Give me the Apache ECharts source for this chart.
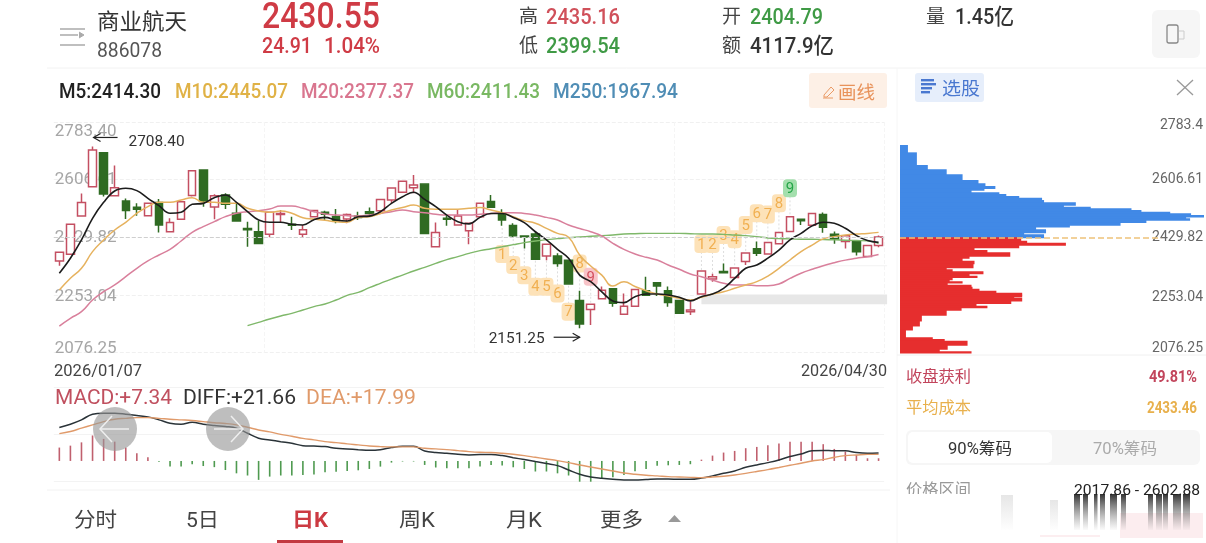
<!DOCTYPE html>
<html>
<head>
<meta charset="utf-8">
<style>html,body{margin:0;padding:0;background:#fff}#c{width:1206px;height:543px}#c canvas{filter:blur(0.4px)}</style>
<script src="https://cdn.jsdelivr.net/npm/echarts@6/dist/echarts.min.js"></script>
</head>
<body>
<div id="c"></div>
<script>
const dates = ['2026/01/07','2026/01/08','2026/01/09','2026/01/12','2026/01/13','2026/01/14','2026/01/15','2026/01/16','2026/01/19','2026/01/20','2026/01/21','2026/01/22','2026/01/23','2026/01/26','2026/01/27','2026/01/28','2026/01/29','2026/01/30','2026/02/02','2026/02/03','2026/02/04','2026/02/05','2026/02/06','2026/02/09','2026/02/10','2026/02/11','2026/02/12','2026/02/13','2026/02/24','2026/02/25','2026/02/26','2026/02/27','2026/03/02','2026/03/03','2026/03/04','2026/03/05','2026/03/06','2026/03/09','2026/03/10','2026/03/11','2026/03/12','2026/03/13','2026/03/16','2026/03/17','2026/03/18','2026/03/19','2026/03/20','2026/03/23','2026/03/24','2026/03/25','2026/03/26','2026/03/27','2026/03/30','2026/03/31','2026/04/01','2026/04/02','2026/04/03','2026/04/07','2026/04/08','2026/04/09','2026/04/10','2026/04/13','2026/04/14','2026/04/15','2026/04/16','2026/04/17','2026/04/20','2026/04/21','2026/04/22','2026/04/23','2026/04/24','2026/04/27','2026/04/28','2026/04/29','2026/04/30'];
// [open, close, low, high]
const kline = [[2357,2384,2343,2384],[2378,2470,2378,2470],[2495,2537,2495,2564],[2585,2697.6,2585,2708.4],[2689,2563,2555,2689],[2557,2582,2555,2650],[2541,2512,2486,2549],[2522,2516,2496,2534],[2496,2534,2496,2537],[2537,2468,2445,2547],[2447,2475,2447,2488],[2485,2539,2485,2541],[2558,2634,2555,2636],[2636,2541,2524,2636],[2523,2557,2485,2562],[2560,2531,2517,2565],[2504,2480,2480,2537],[2457,2453,2401,2478],[2447,2411,2411,2480],[2439,2507,2430,2509],[2500,2503,2476,2514],[2470,2467,2452,2493],[2439,2453,2429,2468],[2493,2512,2493,2514],[2507,2501,2483,2511],[2494,2481,2473,2517],[2486,2500,2473,2503],[2495,2491,2483,2508],[2508,2503,2493,2521],[2511,2546,2505,2546],[2544,2581,2534,2581],[2568,2602,2568,2602],[2582,2590,2565,2621],[2593,2442,2442,2593],[2401,2445,2401,2475],[2488,2485,2465,2498],[2468,2495,2468,2516],[2450,2473,2409,2473],[2493,2534,2493,2534],[2540,2522,2522,2560],[2503,2483,2465,2516],[2466,2435,2430,2473],[2434,2431,2396,2434],[2440,2363,2363,2447],[2373,2409,2360,2411],[2373,2350,2340,2381],[2360,2287,2287,2360],[2236,2164,2151.25,2266],[2209,2224.5,2161,2224.5],[2242,2268,2242,2279],[2272,2228,2217,2272],[2194,2219,2194,2258],[2219,2270,2219,2270],[2266,2252,2252,2309],[2291,2281,2250,2291],[2266,2230,2217,2279],[2236,2197,2195,2236],[2202,2207,2192,2233],[2256,2327,2256,2327],[2302,2309,2294,2318],[2325,2321,2321,2350],[2307,2336,2304,2338],[2356,2382,2345,2382],[2395,2381,2373,2417],[2379,2414,2379,2414],[2410,2445,2410,2445],[2448,2493,2448,2493],[2485,2481,2468,2485],[2467,2503,2467,2503],[2500,2461,2444,2506],[2439,2425,2410,2448],[2417,2435,2396,2435],[2417,2386,2374,2417],[2371,2405,2371,2405],[2404.79,2430.55,2399.54,2435.16]];
const ma5 = [2319.6,2365.6,2421.8,2488.2,2537.2,2571.9,2580.1,2573,2549.5,2527,2503.5,2506.6,2531,2534,2551.5,2559.7,2537.2,2508.6,2483,2476,2476,2469.8,2467.7,2484,2491.2,2483,2480,2493,2495,2508.5,2534,2554.5,2568,2546,2524,2498,2478,2471,2491,2503,2503,2491,2475,2447,2422,2393,2365.5,2314,2294,2263,2234.7,2229.7,2248,2256,2256,2253,2246,2235,2248,2256,2273.6,2304,2335,2345,2366,2391,2422,2442,2465,2476,2473,2457.5,2435,2420,2414.3];
const ma10 = [2268.5,2304.3,2335,2386,2421.8,2452.4,2476,2503.5,2524,2537.2,2537.2,2544.4,2551.5,2537.2,2537.2,2534,2534,2518.8,2510.6,2506.6,2510.6,2503.5,2490.2,2486,2482,2478,2476,2491,2493,2503,2513.6,2521,2529,2519,2516,2516,2516,2519,2521,2513.6,2505.5,2493,2481,2472.8,2457.4,2442,2430,2375.7,2342,2314,2280.7,2294,2279,2266.4,2256,2250,2243,2238,2246,2256,2263,2273.6,2284,2294,2311,2335,2360.4,2386,2406,2425,2432,2437,2440,2442,2445.07];
const ma20 = [2158,2181.7,2202,2237.8,2263.4,2283.8,2309.4,2335,2357.4,2375.8,2393,2418.7,2445.3,2462.6,2478,2493.3,2503.5,2508.6,2511.7,2516.8,2526,2526,2518.8,2508.6,2501.5,2498.4,2496.3,2495,2498,2503,2508.5,2513.6,2508.5,2505.5,2501,2498,2498,2498,2501,2503,2505.5,2505.5,2503,2498,2491,2483,2467.7,2457,2447,2434,2411.5,2393,2379,2368.6,2360.4,2345,2332,2317.5,2309,2299,2289,2284,2284,2281.8,2281.8,2287,2304,2319.6,2332,2343,2352,2360,2365.5,2370.7,2377.37];
const ma60 = [null,null,null,null,null,null,null,null,null,null,null,null,null,null,null,null,null,2159,2169.4,2179.6,2188.8,2197,2207.2,2217.4,2225.6,2237.8,2252.2,2261,2275.6,2289,2302,2314,2326.7,2338,2350,2361.4,2370.6,2380.8,2389,2395,2401,2407.4,2413.5,2418.6,2422.7,2425.8,2429,2431,2433,2435,2437,2440,2441,2442,2442,2442,2442,2441,2440,2440,2439,2437,2435,2432,2428,2426,2425,2424,2424,2423,2422,2421,2420,2419,2411.43];
const macd = [36.7,42,51,70,60.5,53,36.7,21,10,-2,-15.6,-15.6,-9,-14,-17,-25,-34,-40,-52,-43,-40,-40,-38.5,-37,-31,-30,-27.5,-25.7,-22,-15.6,-4.6,-1.5,-1.5,-11,-18,-20,-20,-20,-15.6,-11,-12.8,-17.4,-22,-29,-29,-34,-40,-57,-57,-49.5,-45,-38.5,-28.4,-22,-13,-12,-11,-9,3.5,14.7,23,27.5,35,38.5,43,47.7,53,53,53,46,33,25.7,16.5,7.3,7.34];
const diff = [91.7,100.9,112.8,128.4,131,131,128.4,124.7,121,112.8,103.6,100.9,106.4,100.9,97.2,94.5,90,76,62.4,57.8,53,48.6,42,41,39.4,34.8,33,31,29.3,31,36.7,40,40,27.5,23,21,18.3,16.5,17.4,17.4,14.7,9,3.7,-1.8,-7.3,-12.8,-24.8,-36.7,-44,-47.7,-50.4,-52.3,-52.3,-51,-49.5,-49.5,-50.4,-50.4,-47,-41,-34,-27.5,-17.4,-11,-4.6,2.8,12,19,28,29,28,28,23,21,21.66];
const dea = [75,80.7,90,99,108,114.6,117,119,119,117,114.6,112.8,111,108,105,102.7,99,92.6,85,79.8,73,67.9,62,57.8,53,50.4,46.8,44,41,39.4,38.5,38.5,38.5,34.8,33,31,28.4,25.7,23.8,23,21,18.3,14.7,10,5.5,0.9,-4.6,-11,-16.5,-22,-27.5,-33,-36.7,-39.4,-41,-43,-44,-45,-45.9,-44,-42,-38.5,-34,-29,-23.8,-18,-12,-6.4,0,3.7,10,14.7,16.5,18,17.99];
// price band edges (high to low) and chip volume in each band
const chipEdges = [2712.9,2690.4,2651.6,2638.3,2623,2605.6,2595.4,2587.3,2580.1,2575,2567.8,2562.7,2556.6,2551.5,2544.3,2537.2,2529,2523.9,2518.8,2513.7,2508.6,2503.5,2498.4,2493.3,2488.1,2483,2475.9,2467.7,2462.6,2454.4,2445.2,2439.1,2429.82,2419.6,2413.5,2406.3,2399.2,2391,2383.9,2372.6,2366.5,2358.3,2350.2,2337.9,2331.8,2325.6,2319.5,2312.4,2307.3,2301.1,2295,2290.9,2284.8,2278.6,2272.5,2266.4,2260.3,2254.1,2248,2243.9,2235.7,2227.6,2220.4,2215.3,2207.1,2191.8,2174.4,2159.1,2146.8,2123.3,2118.2,2113.1,2099.8,2087.6,2080.4,2076.25];
const chipVols = [8,17,28,47,63,79,86,96,85,72,100,107,120,143,145,177,165,192,233,243,272,293,306,288,292,248,222,171,137,147,125,145,122,128,167,120,75,88,111,70,63,75,74,47,53,84,70,78,53,50,63,48,72,73,80,97,123,123,115,123,112,77,88,62,47,22,20,13,6,33,45,68,48,40,72];
const lastPrice = 2429.82;
const priceTicks = [2076.25,2253.04,2429.82,2606.61,2783.40];
const leftTickLabels = ['2076.25','2253.04','2429.82','2606.61','2783.40'];
const rightTickLabels = ['2076.25','2253.04','2429.82','2606.61','2783.4'];
// TD sequence: [candle index, badge price, number, kind]
const tdMarks = [[40,2378.8,1,0],[41,2345,2,0],[42,2314,3,0],[43,2278.6,4,0],[44,2278.6,5,0],[45,2258,6,0],[46,2202,7,0],[47,2350,8,0],[48,2309,9,1],[58,2409.5,1,0],[59,2409.5,2,0],[60,2437,3,0],[61,2424,4,0],[62,2468,5,0],[63,2503.5,6,0],[64,2500,7,0],[65,2534,8,0],[66,2580,9,2]];
const tdColors = [['#fde2b8','#f1b052'],['#f8c4c8','#d4505f'],['#a4dfad','#25a548']];
const gapBands = [[58,2255,2224.7,'#e7e7e7'],[63,2344,2341,'#f2f2f2']];
const maxIndex = 3, minIndex = 47;
const macdTicks = [-57,73,203];

const FF = 'Roboto,"Noto Sans CJK SC",sans-serif';
const ctx = document.createElement('canvas').getContext('2d');
function T(text,x,yc,size,fill,w,weight,z){
  const font=(weight||'normal')+' '+size+'px '+FF;
  ctx.font=font;
  const m=ctx.measureText(text).width;
  return {type:'text',x:x,y:yc+4,scaleX:w?w/m:1,z:z||20,silent:true,
    style:{text:text,fill:fill,font:font,textAlign:'left',textVerticalAlign:'middle',align:'left',verticalAlign:'middle'}};
}
function R(x,y,w,h,fill,r,z){return {type:'rect',shape:{x:x,y:y,width:w,height:h,r:r||0},style:{fill:fill},z:z||1,silent:true};}
function L(x1,y1,x2,y2,stroke,lw,z){return {type:'line',shape:{x1:x1,y1:y1,x2:x2,y2:y2},style:{stroke:stroke,lineWidth:lw||1},z:z||5,silent:true};}
function P(pts,stroke,lw,z,fill){return {type:'polyline',shape:{points:pts},style:{stroke:stroke,lineWidth:lw||1,fill:fill||null},z:z||5,silent:true};}

const g=[];
// header
g.push(L(60,29,85,29,'#aaa',1.5),L(60,35,78,35,'#aaa',1.5),L(60,45,85,45,'#aaa',1.5),P([[79,32],[84,35],[79,38]],'#aaa',1,5,'#aaa'));
g.push(T('商业航天',97,19,22,'#333',90),T('886078',97,48,20,'#555',65));
g.push(T('2430.55',262,15,36,'#cf3b45',118,'500'),T('24.91',262,43,22,'#cf3b45',50,'500'),T('1.04%',324,43,22,'#cf3b45',56,'500'));
g.push(T('高',519,14,19,'#444',19),T('2435.16',546,14,22,'#d0505a',74,'500'),T('低',519,43,19,'#444',19),T('2399.54',546,43,22,'#3f9a45',74,'500'));
g.push(T('开',722,14,19,'#444',19),T('2404.79',750,14,22,'#3f9a45',73,'500'),T('额',722,43,19,'#444',19),T('4117.9亿',750,43,22,'#333',84,'500'));
g.push(T('量',926,14,19,'#444',19),T('1.45亿',955,14,22,'#333',59,'500'));
g.push(R(1152,10,48,48,'#f6f6f6',6));
g.push({type:'rect',shape:{x:1167,y:25,width:11,height:18,r:2},style:{fill:'none',stroke:'#888',lineWidth:1.3},z:5,silent:true});
g.push(P([[1179,31],[1184,31],[1184,39],[1179,39]],'#ccc',1));
g.push(L(47,68,1206,68,'#f2f2f2',1),L(897,68,897,543,'#f6f6f6',1));
// MA legend
g.push(T('M5:2414.30',59,89,20,'#222',102,'500'),T('M10:2445.07',175,89,20,'#e0b246',113,'500'),T('M20:2377.37',301,89,20,'#d9768f',113,'500'),T('M60:2411.43',427,89,20,'#79b862',113,'500'),T('M250:1967.94',553,89,20,'#4f8db5',125,'500'));
g.push(R(809,73,78,35,'#fdf0e6',3));
g.push(L(823,98,833,98,'#ea9a64',1),P([[824,95],[831,87],[834,90],[827,97],[824,97],[824,95]],'#ea9a64',1));
g.push(T('画线',838,90,18,'#e8925a',37));
// right panel top
g.push(R(915,73,69,29,'#e6eefb',3));
g.push(R(921,79,13,2.4,'#4a78d0',0,5),R(921,83,15,2.4,'#4a78d0',0,5),R(921,87,11,2.4,'#4a78d0',0,5),R(921,91,9,2.4,'#4a78d0',0,5));
g.push(T('选股',942,86,18,'#4a78d0',38));
g.push(L(1177,80,1193,95,'#999',1.3),L(1193,80,1177,95,'#999',1.3));
// date labels
g.push(T(dates[0],54,368,17,'#444',88),T(dates[dates.length-1],801,368,17,'#444',86));
// macd legend
g.push(T('MACD:+7.34',55,395,21,'#c0505f',117),T('DIFF:+21.66',183,395,21,'#333',113),T('DEA:+17.99',306,395,21,'#e09a6a',110));
// macd nav circles
[[115,429,1],[228,429,-1]].forEach(c=>{
  g.push({type:'circle',shape:{cx:c[0],cy:c[1],r:22},style:{fill:'rgba(150,150,150,0.62)'},z:50,silent:true});
  const d=c[2];
  g.push(L(c[0]-14,c[1],c[0]+14,c[1],'#eee',1.5,51),P([[c[0]-d*3,c[1]-13],[c[0]-d*15,c[1]],[c[0]-d*3,c[1]+13]],'#eee',1.5,51));
});
// right panel bottom
g.push(L(897,355,1206,355,'#f0f0f0',1));
g.push(T('收盘获利',906,374,16,'#c2455c',65),T('49.81%',1149,374,16,'#c2455c',48,'bold'));
g.push(T('平均成本',906,405,16,'#e8b04c',65),T('2433.46',1147,405,16,'#e8b04c',50,'bold'));
g.push(R(906,430,294,35,'#f6f6f6',6),R(908,432,144,31,'#ffffff',5,2));
g.push(T('90%筹码',948,446,16,'#333',64),T('70%筹码',1093,446,16,'#aaa',64));
g.push(T('价格区间',906,487,16,'#999',65),T('2017.86 - 2602.88',1074,487,15,'#222',126));
g.push(R(900,494,100,8,'#ffffff',0,25));
const fade={type:'linear',x:0,y:0,x2:0,y2:1,colorStops:[{offset:0,color:'rgba(40,40,40,0.95)'},{offset:1,color:'rgba(120,120,120,0.03)'}]};
[[1074,6],[1083,5],[1094,3.5],[1100,5],[1110,7],[1121,5],[1148,5],[1156,6],[1163,5],[1173,8],[1183,7]].forEach(s=>g.push(R(s[0],494,s[1],36,fade,0,3)));
const pale={type:'linear',x:0,y:0,x2:0,y2:1,colorStops:[{offset:0,color:'rgba(200,200,200,0.45)'},{offset:1,color:'rgba(200,200,200,0.02)'}]};
g.push(R(1001,495,12,35,pale,0,2),R(1050,500,8,30,pale,0,2));
g.push(R(1120,513,83,25,'rgba(250,222,226,0.55)',0,2),R(1040,535,60,2,'rgba(250,222,226,0.5)',0,2));
// bottom tabs
g.push(L(47,490,890,490,'#f2f2f2',1));
g.push(T('分时',74,518,20,'#444',43),T('5日',186,518,20,'#444',33),T('日K',292,518,20,'#cc3a42',36,'bold'),T('周K',399,518,20,'#444',36),T('月K',506,518,20,'#444',36),T('更多',600,518,20,'#444',43));
g.push(R(277,540,66,3,'#c23a42'));
g.push({type:'polygon',shape:{points:[[668,522],[681,522],[674.5,515]]},style:{fill:'#999'},z:5,silent:true});

function tickLabel(labels,keys){
  return (v)=>{
    let best=0;
    priceTicks.forEach((t,i)=>{ if(Math.abs(t-v)<Math.abs(priceTicks[best]-v)) best=i; });
    return '{'+keys[best]+'|'+labels[best]+'}';
  };
}
function rich(color,size,pads){
  const r={};
  Object.keys(pads).forEach(k=>{ r[k]={color:color,fontSize:size,fontFamily:FF,padding:pads[k]}; });
  return r;
}
const tickKeys=['a','b','c','d','e'];

function tdRender(params,api){
  const i=api.value(0),n=api.value(2),kind=api.value(3),price=api.value(1);
  const p=api.coord([i,price]);
  const k=kline[i],end=price<k[2]?k[2]:k[3];
  const e=api.coord([i,end]);
  const c=tdColors[kind];
  return {type:'group',children:[
    {type:'line',shape:{x1:p[0],y1:p[1],x2:e[0],y2:e[1]},style:{stroke:'#ddd',lineWidth:1,lineDash:[2,2]}},
    {type:'rect',shape:{x:p[0]-7,y:p[1]-9,width:14,height:18,r:4},style:{fill:c[0]}},
    {type:'text',style:{text:String(n),x:p[0],y:p[1]+1,fill:c[1],font:'15px '+FF,textAlign:'center',textVerticalAlign:'middle',align:'center',verticalAlign:'middle'}}
  ]};
}
function gapRender(params,api){
  const a=api.coord([api.value(0),api.value(1)]),b=api.coord([api.value(0),api.value(2)]);
  const right=params.coordSys.x+params.coordSys.width+3;
  return {type:'rect',shape:{x:a[0],y:a[1],width:right-a[0],height:b[1]-a[1]},style:{fill:gapBands[params.dataIndex][3]}};
}
function chipRender(params,api){
  const hi=api.value(0),lo=api.value(1),v=api.value(2);
  const a=api.coord([0,hi]),b=api.coord([v,lo]);
  return {type:'rect',shape:{x:a[0],y:a[1],width:b[0]-a[0],height:b[1]-a[1]+0.8},style:{fill:lo>=lastPrice?'#4189e6':'#e62e2e'}};
}
const chipData=chipVols.map((v,i)=>[chipEdges[i],chipEdges[i+1],v]);

const chart=echarts.init(document.getElementById('c'));
chart.setOption({
  animation:false,
  backgroundColor:'#fff',
  textStyle:{fontFamily:FF},
  grid:[
    {left:53.8,width:830.3,top:122,height:230.7},
    {left:53.8,width:830.3,top:387,height:94.7},
    {left:900,width:306,top:122,height:230.7}
  ],
  xAxis:[
    {type:'category',gridIndex:0,data:dates,axisLine:{show:false},axisTick:{show:false},axisLabel:{show:false},
      splitLine:{show:true,interval:(i)=>i===19||i===38||i===56,lineStyle:{color:'#f5f5f5',type:'dashed'}}},
    {type:'category',gridIndex:1,data:dates,axisLine:{show:false},axisTick:{show:false},axisLabel:{show:false},splitLine:{show:false}},
    {type:'value',gridIndex:2,min:0,max:306,axisLine:{show:false},axisTick:{show:false},axisLabel:{show:false},splitLine:{show:false}}
  ],
  yAxis:[
    {type:'value',gridIndex:0,min:2076.25,max:2783.40,position:'left',axisLine:{show:false},
      axisTick:{show:false,customValues:priceTicks},
      axisLabel:{inside:true,margin:1,customValues:priceTicks,
        formatter:tickLabel(leftTickLabels,tickKeys),
        rich:rich('#a6a6a6',17,{a:[0,0,7,0],b:[4,0,0,0],c:[0,0,0,0],d:[0,0,0,0],e:[20,0,0,0]})},
      splitLine:{show:true,lineStyle:{color:'#f0f0f0',type:'dashed'}}},
    {type:'value',gridIndex:1,min:-57,max:203,axisLine:{show:false},axisLabel:{show:false},
      axisTick:{show:false,customValues:macdTicks},splitLine:{show:true,lineStyle:{color:'#f3f3f3'}}},
    {type:'value',gridIndex:2,min:2076.25,max:2783.40,position:'right',axisLine:{show:false},
      axisTick:{show:false,customValues:priceTicks},
      axisLabel:{inside:true,margin:1,customValues:priceTicks,
        formatter:tickLabel(rightTickLabels,tickKeys),
        rich:rich('#666',14,{a:[0,0,8,0],b:[4,0,0,0],c:[0,0,0,0],d:[0,0,0,0],e:[6,0,0,0]})},
      splitLine:{show:false}}
  ],
  series:[
    {type:'custom',name:'gap',xAxisIndex:0,yAxisIndex:0,z:1,silent:true,renderItem:gapRender,data:gapBands.map(b=>[b[0],b[1],b[2]]),
      markLine:{silent:true,symbol:'none',label:{show:false},lineStyle:{color:'#cfcfcf',type:'dashed',width:1},data:[{yAxis:lastPrice}]}},
    {type:'custom',name:'td',xAxisIndex:0,yAxisIndex:0,z:1,silent:true,renderItem:tdRender,data:tdMarks},
    {type:'candlestick',name:'K',xAxisIndex:0,yAxisIndex:0,z:2,barWidth:8,data:kline,
      itemStyle:{color:'#ffffff',color0:'#2f6b22',borderColor:'#c44f62',borderColor0:'#2f6b22',borderWidth:1.5}},
    {type:'line',name:'M60',xAxisIndex:0,yAxisIndex:0,z:3,data:ma60,symbol:'none',smooth:0.5,lineStyle:{color:'#7fb86a',width:1.4}},
    {type:'line',name:'M20',xAxisIndex:0,yAxisIndex:0,z:3,data:ma20,symbol:'none',smooth:0.5,lineStyle:{color:'#d9809c',width:1.5}},
    {type:'line',name:'M10',xAxisIndex:0,yAxisIndex:0,z:3,data:ma10,symbol:'none',smooth:0.5,lineStyle:{color:'#e6b25e',width:1.5}},
    {type:'line',name:'M5',xAxisIndex:0,yAxisIndex:0,z:4,data:ma5,symbol:'none',smooth:0.4,lineStyle:{color:'#1c1c1c',width:1.6}},
    {type:'bar',name:'MACD',xAxisIndex:1,yAxisIndex:1,barWidth:1.6,data:macd,silent:true,
      itemStyle:{color:(p)=>p.value>=0?'#c0606e':'#4f9a50'}},
    {type:'line',name:'DIFF',xAxisIndex:1,yAxisIndex:1,z:3,data:diff,symbol:'none',smooth:0.4,lineStyle:{color:'#2a3338',width:1.5}},
    {type:'line',name:'DEA',xAxisIndex:1,yAxisIndex:1,z:3,data:dea,symbol:'none',smooth:0.4,lineStyle:{color:'#e09a6a',width:1.4}},
    {type:'custom',name:'chips',xAxisIndex:2,yAxisIndex:2,silent:true,z:2,renderItem:chipRender,data:chipData,
      markLine:{silent:true,symbol:'none',label:{show:false},lineStyle:{color:'#eec27a',type:'dashed',width:1.5},
        data:[[{coord:[0,lastPrice]},{coord:[263,lastPrice]}]]}}
  ],
  graphic:{elements:g}
});
// value annotations, anchored to the extreme candles through the axes
const topPt=chart.convertToPixel({xAxisIndex:0,yAxisIndex:0},[maxIndex,kline[maxIndex][3]]);
const botPt=chart.convertToPixel({xAxisIndex:0,yAxisIndex:0},[minIndex,kline[minIndex][2]]);
const ty=topPt[1]-9, by=botPt[1]+9;
const extra=[
  L(topPt[0]+1,ty,topPt[0]+25,ty,'#222',1.2,30),P([[topPt[0]+8,ty-4],[topPt[0]+1,ty],[topPt[0]+8,ty+4]],'#222',1.2,30),
  T(kline[maxIndex][3].toFixed(2),topPt[0]+36,ty+1,15,'#333',56),
  L(botPt[0]-26,by,botPt[0],by,'#222',1.2,30),P([[botPt[0]-7,by-4],[botPt[0],by],[botPt[0]-7,by+4]],'#222',1.2,30),
  T(kline[minIndex][2].toFixed(2),botPt[0]-91,by-2,15,'#333',56)
];
chart.setOption({graphic:{elements:g.concat(extra)}});
</script>
</body>
</html>
